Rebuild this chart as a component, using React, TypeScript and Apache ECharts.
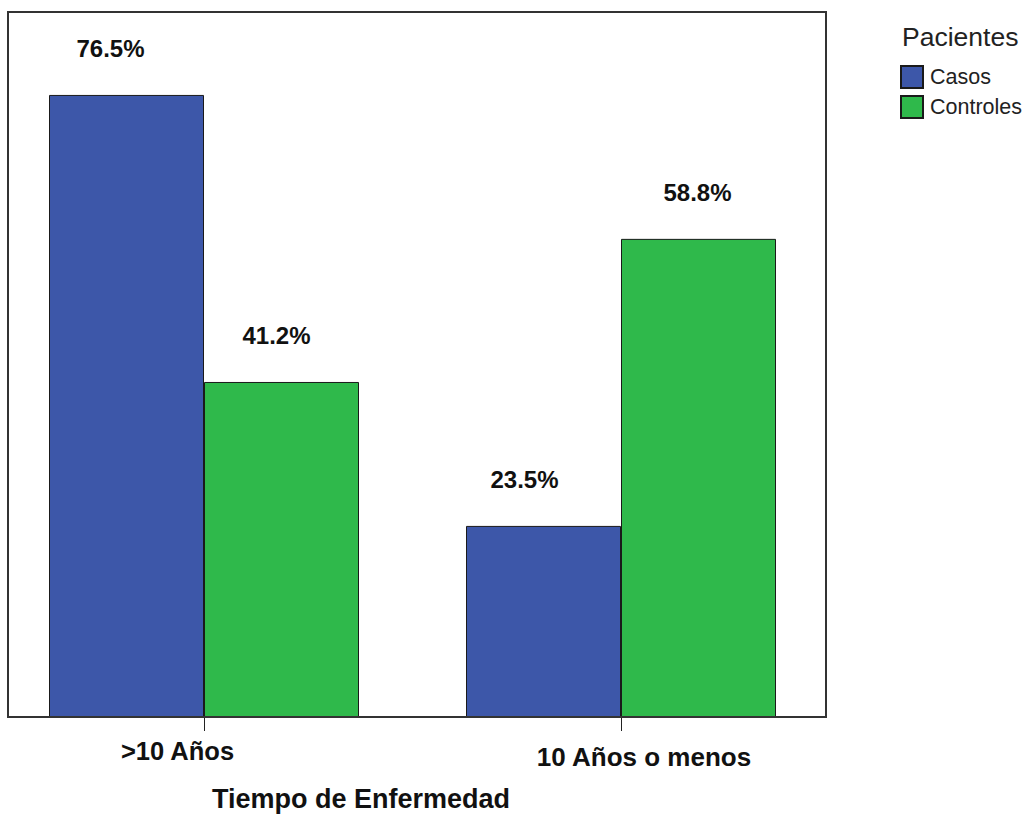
import React, { useEffect, useRef } from "react";
import * as echarts from "echarts";

const categories = [">10 Años", "10 Años o menos"];
const casos = [76.5, 23.5];
const controles = [41.2, 58.8];
const seriesNames = ["Casos", "Controles"];
const legendTitle = "Pacientes";
const axisTitle = "Tiempo de Enfermedad";

const COLORS = ["#3D57A9", "#2FB94B"];
const CASOS_LABEL_DX = [-16, -19];
const CONTROLES_LABEL_DX = [-5, -1];
const FONT = "'Liberation Sans', Arial, sans-serif";
const OFF = 10; // the chart div starts OFF px left of the page edge

export default function App() {
  const ref = useRef<HTMLDivElement>(null);
  useEffect(() => {
    if (!ref.current) return;
    const chart = echarts.init(ref.current, undefined, { renderer: "svg" });
    const labelBase = {
      show: true,
      position: "top",
      distance: 34,
      fontFamily: FONT,
      fontWeight: "bold",
      fontSize: 24,
      color: "#111",
      formatter: (p: any) => `${p.value.toFixed(1)}%`,
    };
    const mk = (vals: number[], dx: number[]) =>
      vals.map((v, i) => ({ value: v, label: { offset: [dx[i], 0] } }));
    chart.setOption({
      animation: false,
      backgroundColor: "#fff",
      title: [
        {
          text: axisTitle,
          left: 361 + OFF,
          top: 785,
          padding: 0,
          textAlign: "center",
          textStyle: { fontFamily: FONT, fontWeight: "bold", fontSize: 27, color: "#111" },
        },
        {
          text: legendTitle,
          left: 902 + OFF,
          top: 23,
          padding: 0,
          textStyle: { fontFamily: FONT, fontWeight: "normal", fontSize: 26.5, color: "#222" },
        },
      ],
      legend: {
        orient: "vertical",
        left: 900 + OFF,
        top: 65,
        padding: 0,
        itemWidth: 22,
        itemHeight: 22,
        itemGap: 6,
        icon: "rect",
        data: seriesNames,
        textStyle: { fontFamily: FONT, fontSize: 21.5, color: "#222", padding: [0, 0, 0, 2] },
      },
      grid: { left: -4.5 + OFF, right: 195.5, top: 12, bottom: 97, containLabel: false },
      xAxis: {
        type: "category",
        data: categories,
        axisLine: { show: false },
        axisTick: { show: true, alignWithLabel: true, length: 14, lineStyle: { color: "#222", width: 1 } },
        axisLabel: {
          margin: 21,
          formatter: (v: string, i: number) => (i === 0 ? `{a|${v}}` : `{b|${v}}`),
          rich: {
            a: { fontFamily: FONT, fontWeight: "bold", fontSize: 25.5, color: "#111", padding: [0, 53, 0, 0] },
            b: { fontFamily: FONT, fontWeight: "bold", fontSize: 26, color: "#111", padding: [6, 0, 0, 46] },
          },
        },
      },
      yAxis: {
        type: "value",
        min: 0,
        max: 86.7,
        show: false,
        splitLine: { show: false },
      },
      series: [
        {
          name: seriesNames[0],
          type: "bar",
          barWidth: 155,
          barGap: "0%",
          data: mk(casos, CASOS_LABEL_DX),
          itemStyle: { color: COLORS[0], borderColor: "#1a1a1a", borderWidth: 1 },
          label: labelBase,
        },
        {
          name: seriesNames[1],
          type: "bar",
          barWidth: 155,
          barGap: "0%",
          data: mk(controles, CONTROLES_LABEL_DX),
          itemStyle: { color: COLORS[1], borderColor: "#1a1a1a", borderWidth: 1 },
          label: labelBase,
        },
      ],
      graphic: [
        {
          type: "rect",
          shape: { x: 8 + OFF, y: 12, width: 818, height: 705 },
          style: { fill: "none", stroke: "#333", lineWidth: 2 },
          z: 100,
        },
      ],
    });
    return () => chart.dispose();
  }, []);
  return (
    <div
      ref={ref}
      style={{ position: "absolute", left: -OFF, top: 0, width: 1025 + OFF, height: 814 }}
    />
  );
}
